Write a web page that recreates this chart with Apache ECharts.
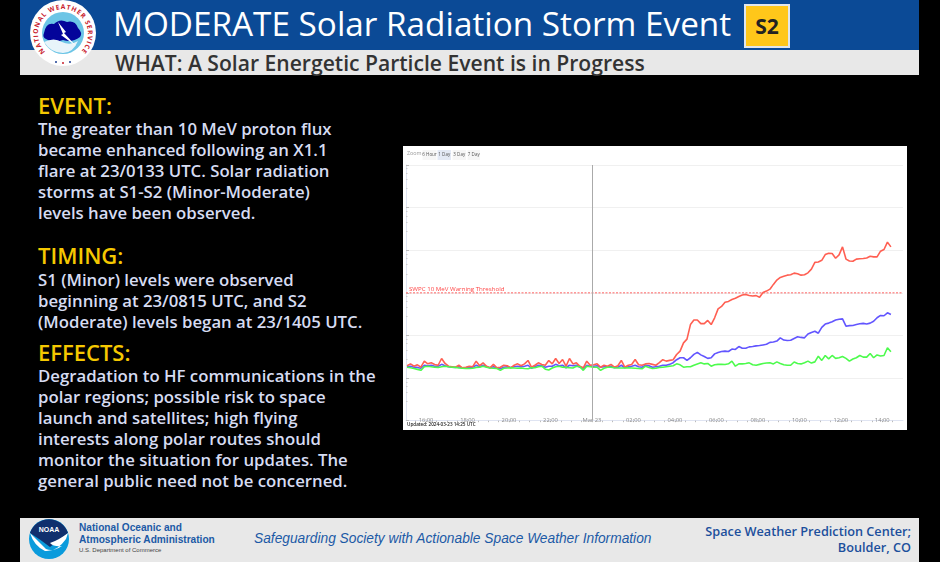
<!DOCTYPE html>
<html>
<head>
<meta charset="utf-8">
<script src="https://cdn.jsdelivr.net/npm/echarts@6/dist/echarts.min.js"></script>
<style>
html,body{margin:0;padding:0;background:#000;width:940px;height:562px;overflow:hidden;}
.t{position:absolute;white-space:nowrap;font-family:"Open Sans",sans-serif;line-height:1;}
#head{position:absolute;left:20px;top:0;width:899px;height:50px;background:#0b4a96;}
#sub{position:absolute;left:20px;top:50px;width:899px;height:25px;background:#e8e8e8;}
#foot{position:absolute;left:20px;top:518px;width:899px;height:44px;background:#e8e8e8;}
#badge{position:absolute;left:744px;top:4px;width:42px;height:40px;background:#ffc71a;border:2px solid #dfe6ee;color:#222;font:700 21px "Open Sans",sans-serif;text-align:center;line-height:40px;}
.h{color:#f5c800;font-size:22px;font-weight:600;}
.b{color:#d6dcf2;font-size:16.75px;font-weight:600;line-height:21px;}
#main{position:absolute;left:403px;top:146px;width:504px;height:284px;background:#fff;filter:blur(0.5px);}
</style>
</head>
<body>
<div id="head"></div>
<div id="sub"></div>
<div id="foot"></div>
<div class="t" style="left:113px;top:7px;font-size:33.3px;color:#fff;font-weight:500;">MODERATE Solar Radiation Storm Event</div>
<div id="badge">S2</div>
<div class="t" style="left:115px;top:52px;font-size:21.1px;color:#333;font-weight:600;">WHAT: A Solar Energetic Particle Event is in Progress</div>

<svg style="position:absolute;left:27px;top:0" width="72" height="70" viewBox="0 0 72 70">
  <defs><path id="ring" d="M 18.3 51.7 A 25 25 0 1 1 53.7 51.7"/></defs>
  <circle cx="36" cy="33" r="33" fill="#fff"/>
  <text font-size="6.6" font-weight="700" fill="#c8202c" font-family="Open Sans"><textPath href="#ring" textLength="116">NATIONAL WEATHER SERVICE</textPath></text>
  <circle cx="36" cy="33" r="21" fill="#6cc5e6"/>
  <path d="M17 33 q2 -11 10 -9 q6 -6 13 -2 q8 -2 11 6 q5 5 2 9 q-8 6 -17 3 q-10 4 -17 -1 q-4 -2 -2 -6z" fill="#04049a"/>
  <path d="M17 42 q10 -5 18 0 q8 4 16 -1 q-5 12 -15 12 q-12 0 -19 -11z" fill="#e8f4fa"/>
  <path d="M31 22 l8 10 l-2 1 l12 13 l-15 -11 l2 -1z" fill="#fff"/>
  <circle cx="29" cy="62" r="1" fill="#1b3f94"/><circle cx="36" cy="63" r="1" fill="#c8202c"/><circle cx="43" cy="62" r="1" fill="#1b3f94"/>
</svg>

<div class="t h" style="left:38px;top:94px;">EVENT:</div>
<div class="t b" style="left:38px;top:118px;">The greater than 10 MeV proton flux<br>became enhanced following an X1.1<br>flare at 23/0133 UTC. Solar radiation<br>storms at S1-S2 (Minor-Moderate)<br>levels have been observed.</div>
<div class="t h" style="left:38px;top:244px;">TIMING:</div>
<div class="t b" style="left:38px;top:269px;">S1 (Minor) levels were observed<br>beginning at 23/0815 UTC, and S2<br>(Moderate) levels began at 23/1405 UTC.</div>
<div class="t h" style="left:38px;top:341px;">EFFECTS:</div>
<div class="t b" style="left:38px;top:365px;">Degradation to HF communications in the<br>polar regions; possible risk to space<br>launch and satellites; high flying<br>interests along polar routes should<br>monitor the situation for updates. The<br>general public need not be concerned.</div>

<div id="main"></div>

<svg style="position:absolute;left:29px;top:518px" width="42" height="44" viewBox="0 0 42 44">
  <circle cx="20" cy="21" r="20" fill="#0a9bdc"/>
  <path d="M1 15 A20 20 0 0 1 39 15 Q30 22 21 29 Q12 22 1 15z" fill="#10306e"/>
  <path d="M1 15 Q10 24 17 31 Q24 34 33 28 Q25 29 21 25 Q30 22 39 15 L37 21 Q28 34 16 33 Q5 28 1 15z" fill="#fff"/>
  <text x="20" y="14" font-size="7" font-weight="700" fill="#fff" text-anchor="middle" font-family="Liberation Sans">NOAA</text>
</svg>
<div class="t" style="left:79px;top:522px;font:700 10.15px/12px 'Liberation Sans';color:#1c5aa6;">National Oceanic and<br>Atmospheric Administration</div>
<div class="t" style="left:79px;top:547px;font:400 6px 'Liberation Sans';color:#444;">U.S. Department of Commerce</div>
<div class="t" style="left:254px;top:531px;font:italic 400 13.75px 'Liberation Sans';color:#1c5aa6;">Safeguarding Society with Actionable Space Weather Information</div>
<div class="t" style="right:29px;top:523px;font-size:12.7px;line-height:16px;font-weight:600;color:#1c4f9c;text-align:right;">Space Weather Prediction Center;<br>Boulder, CO</div>

<script>
// flux, one value every 10 minutes from 15:05 on Mar 22
var redFlux = [
    .195,.216,.19,.205,.18,.249,.216,.228,.209,.2,
    .288,.22,.19,.185,.18,.2,.174,.18,.19,.185,
    .249,.195,.228,.19,.174,.209,.174,.18,.2,.195,
    .174,.2,.216,.195,.216,.259,.18,.2,.228,.209,
    .2,.259,.216,.288,.22,.273,.19,.288,.215,.228,
    .19,.174,.249,.2,.205,.216,.18,.2,.19,.209,
    .18,.195,.259,.18,.2,.209,.273,.205,.2,.215,
    .22,.21,.2,.23,.27,.25,.26,.27,
    .358,.43,.67,.82,1.8,2.3,2.3,1.9,1.9,2.25,
    1.8,2.6,4.2,4.8,6.0,6.3,7.0,7.5,8.2,8.9,
    9.2,8.7,8.4,8.6,7.9,10.2,11,12.2,15.8,20,
    23,24.5,26,26.5,29,28,26,26.5,29.5,36,
    52,53,58,79,85,84,65,78,120,62,
    56,55,62,63,64,66,72,70,70,95,
    104,155,120
];
var blueFlux = [
    .185,.19,.18,.178,.17,.2,.195,.2,.19,.19,
    .21,.195,.185,.18,.178,.185,.172,.175,.18,.18,
    .2,.185,.2,.185,.175,.185,.172,.165,.18,.185,
    .178,.185,.19,.185,.19,.2,.17,.185,.2,.195,
    .18,.19,.19,.21,.195,.2,.175,.2,.195,.2,
    .18,.17,.2,.19,.19,.195,.18,.185,.185,.19,
    .175,.18,.2,.175,.185,.19,.2,.185,.18,.2,
    .195,.18,.185,.19,.2,.2,.21,.23,
    .27,.30,.30,.26,.30,.36,.40,.35,.32,.29,
    .30,.37,.40,.42,.43,.42,.48,.47,.55,.50,
    .50,.54,.55,.57,.58,.60,.62,.69,.70,.74,
    .88,.78,.76,.77,.85,.93,.90,.88,1.08,1.18,
    1.26,1.13,1.55,1.85,1.95,2.1,2.3,2.4,2.45,1.65,
    1.7,1.72,1.8,1.88,1.92,1.86,1.95,2.15,2.6,2.95,
    2.9,3.4,3.1
];
var greenFlux = [
    .18,.175,.168,.16,.152,.185,.19,.185,.18,.178,
    .185,.19,.185,.18,.178,.172,.17,.168,.168,.17,
    .178,.18,.19,.18,.172,.17,.168,.152,.17,.172,
    .175,.172,.17,.172,.168,.165,.175,.175,.185,.19,
    .162,.155,.172,.185,.19,.18,.178,.175,.172,.19,
    .185,.152,.19,.185,.18,.18,.152,.17,.18,.18,
    .175,.172,.172,.172,.174,.172,.17,.168,.165,.19,
    .178,.168,.17,.178,.18,.185,.19,.195,
    .216,.205,.18,.185,.184,.2,.215,.228,.215,.22,
    .19,.205,.21,.21,.209,.216,.25,.19,.215,.215,
    .22,.228,.205,.2,.21,.22,.225,.228,.215,.24,
    .22,.205,.2,.2,.238,.22,.215,.23,.25,.225,
    .24,.327,.26,.339,.283,.339,.29,.30,.32,.29,
    .25,.28,.30,.339,.31,.31,.378,.30,.35,.33,
    .339,.514,.414
];
var tickHours = [16,18,20,22,24,26,28,30,32,34,36,38];
var tickLabels = ['16:00','18:00','20:00','22:00','Mar 23','02:00','04:00','06:00','08:00','10:00','12:00','14:00'];
var thresholdValue = 10;
var thresholdLabel = 'SWPC 10 MeV Warning Threshold';
var updatedText = 'Updated: 2024-03-23 14:25 UTC';
var zoomButtons = ['6 Hour','1 Day','3 Day','7 Day'];

var day0 = Date.UTC(2024,2,22);
var HOUR = 3600000;

function pairs(values){
    return values.map(function(v,i){
        return [day0 + 15*HOUR + 5*60000 + i*600000, v];
    });
}
function tickTime(h){ return day0 + h*HOUR; }

var xMin = tickTime(15)+2*60000, xMax = tickTime(39);

var halfHours = [];
for(var h=15.5;h<39;h+=0.5){ halfHours.push(tickTime(h)); }

var buttonX = [19.5,34.5,49.5,64.5], buttonW = [14,13.5,13.5,12.5];
var graphics = [
    {type:'text',left:4,top:5,style:{text:'Zoom',fontSize:5.4,fill:'#999',fontFamily:'Open Sans'}},
    {type:'text',left:4,top:276,style:{text:updatedText,fontSize:4.6,fill:'#222',fontFamily:'Open Sans',fontWeight:600}}
];
zoomButtons.forEach(function(b,i){
    graphics.push({type:'rect',shape:{x:buttonX[i],y:4,width:buttonW[i],height:10},
        style:{fill:i==1?'#e3e9f5':'#f6f6f6'}});
    graphics.push({type:'text',x:buttonX[i]+buttonW[i]/2,y:8.5,
        style:{text:b,fontSize:4.5,fill:'#555',align:'center',verticalAlign:'middle',fontFamily:'Open Sans'}});
});

var myChart = echarts.init(document.getElementById('main'),null,{width:504,height:284});
myChart.setOption({
    animation:false,
    backgroundColor:'#fff',
    graphic:graphics,
    grid:{left:3,right:4,top:19,bottom:9.3},
    xAxis:{
        type:'value',
        min:xMin,
        max:xMax,
        axisLine:{onZero:false,lineStyle:{color:'#dfe4f2',width:1}},
        axisTick:{show:true,length:1.5,customValues:halfHours,lineStyle:{color:'#bbb'}},
        splitLine:{show:false},
        axisLabel:{
            inside:true,
            margin:-3,
            fontSize:5.8,
            color:'#888',
            fontFamily:'Open Sans',
            customValues:tickHours.map(tickTime),
            showMinLabel:true,
            showMaxLabel:true,
            formatter:function(v){ return tickLabels[tickHours.indexOf((v-day0)/HOUR)]; }
        }
    },
    yAxis:{
        type:'log',
        logBase:10,
        min:0.01,
        max:10000,
        axisLine:{show:true,onZero:false,lineStyle:{color:'#dfe4f2',width:1}},
        axisTick:{show:true,inside:true,length:3,lineStyle:{color:'#bbb'}},
        minorTick:{show:true,splitNumber:5,length:1.5,lineStyle:{color:'#ccc'}},
        axisLabel:{show:false},
        splitLine:{show:true,lineStyle:{color:'#f0f0f0',width:1}}
    },
    series:[
        {name:'threshold',type:'line',z:1,symbol:'circle',symbolSize:0,showSymbol:true,
            lineStyle:{color:'#ff5050',type:[2,1.5],width:0.9},
            data:[
                {value:[xMin,thresholdValue],label:{show:true,position:'right',distance:3,offset:[0,-4],
                    formatter:thresholdLabel,color:'#f44',fontSize:6.15,fontFamily:'Open Sans'}},
                {value:[xMax,thresholdValue]}
            ]},
        {name:'>=100 MeV',type:'line',data:pairs(blueFlux),z:2,symbol:'none',lineStyle:{color:'#6255ff',width:1.6},
            markLine:{
                silent:true,symbol:'none',animation:false,
                lineStyle:{color:'#aaa',type:'solid',width:1},
                label:{show:false},
                data:[{xAxis:tickTime(24)}]
            }},
        {name:'>=10 MeV',type:'line',data:pairs(redFlux),z:3,symbol:'none',lineStyle:{color:'#ff5f52',width:1.6}},
        {name:'>=50 MeV',type:'line',data:pairs(greenFlux),z:4,symbol:'none',lineStyle:{color:'#4dfb4d',width:1.6}}
    ]
});
</script>
</body>
</html>
